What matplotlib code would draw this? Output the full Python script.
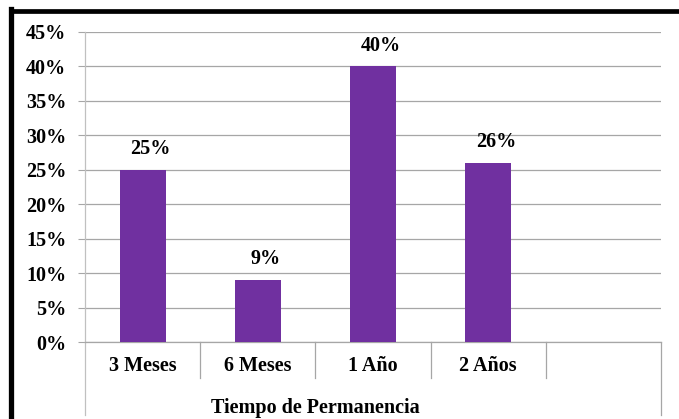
import matplotlib
matplotlib.use("Agg")
import matplotlib.pyplot as plt
from matplotlib.lines import Line2D
import matplotlib.transforms as mtransforms

categories = ["3 Meses", "6 Meses", "1 Año", "2 Años", ""]
values = [25, 9, 40, 26]
yticks = [0, 5, 10, 15, 20, 25, 30, 35, 40, 45]
xlabel = "Tiempo de Permanencia"

W, H = 679, 419
fig = plt.figure(figsize=(W / 100, H / 100), dpi=100)
fig.patch.set_facecolor("white")
plt.rcParams["font.family"] = ["Liberation Serif", "DejaVu Serif"]
FS = 14.5

x0, x1, y0, y1 = 85, 661, 342, 32
ax = fig.add_axes([x0 / W, 1 - y0 / H, (x1 - x0) / W, (y0 - y1) / H])

grid_c = "#a6a6a6"
bar_c = "#7030a0"

xs = list(range(len(values)))
ax.bar(xs, values, width=0.4, color=bar_c, zorder=3)
ax.set_xlim(-0.5, len(categories) - 0.5)
ax.set_ylim(0, 45)
ax.set_yticks(yticks)
ax.set_yticklabels([f"{t}%" for t in yticks], fontsize=FS, fontweight="bold")
ax.yaxis.grid(True, color=grid_c, lw=0.9, zorder=0)
ax.set_xticks([])
ax.tick_params(axis="y", length=5, width=0.8, color=grid_c, pad=8.5)

for side in ["top", "right"]:
    ax.spines[side].set_visible(False)
ax.spines["left"].set_color("#c0c0c0")
ax.spines["bottom"].set_color(grid_c)
ax.spines["left"].set_linewidth(0.9)
ax.spines["bottom"].set_linewidth(0.9)

for x, v in zip(xs, values):
    ax.annotate(f"{v}%", (x, v), xytext=(5.5, 15), textcoords="offset points",
                ha="center", va="center", fontsize=FS, fontweight="bold")

trans = mtransforms.blended_transform_factory(ax.transData, ax.transAxes)
span = y0 - y1
inner_drop = -(378 - y0) / span
outer_drop = -(415 - y0) / span
for i in range(len(categories) + 1):
    xb = i - 0.5
    bottom = outer_drop if i in (0, len(categories)) else inner_drop
    ax.add_line(Line2D([xb, xb], [0, bottom], transform=trans, color="#c0c0c0"
                       if i == 0 else grid_c, lw=0.9, clip_on=False))

for i, c in enumerate(categories):
    ax.text(i, -(366 - y0) / span, c, transform=trans, ha="center", va="center",
            fontsize=FS, fontweight="bold")

ax.text((len(values) - 1) / 2, -(407.5 - y0) / span, xlabel, transform=trans,
        ha="center", va="center", fontsize=FS, fontweight="bold")

# heavy frame along the top and left edges
fig.add_artist(Line2D([10.5 / W, 10.5 / W], [0, 1 - 9 / H], color="black",
                      lw=3.8, solid_capstyle="projecting"))
fig.add_artist(Line2D([10.5 / W, 1], [1 - 11 / H, 1 - 11 / H], color="black",
                      lw=3.4, solid_capstyle="projecting"))

fig.savefig("out.png", dpi=100)
